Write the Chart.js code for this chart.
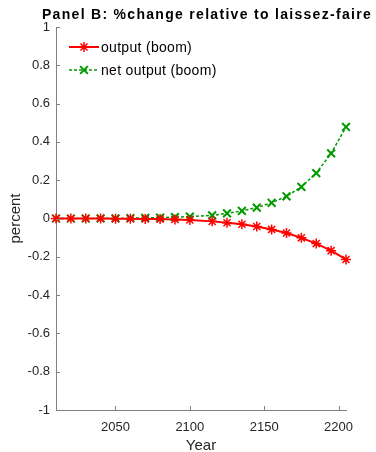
<!DOCTYPE html>
<html>
<head>
<meta charset="utf-8">
<script src="https://cdn.jsdelivr.net/npm/chart.js@4/dist/chart.umd.min.js"></script>
<style>
  html, body { margin: 0; padding: 0; background: #fff; }
  #wrap { width: 376px; height: 452px; }
</style>
</head>
<body>
<div id="wrap"><canvas id="panelB" width="376" height="452"></canvas></div>
<script>
// years of the simulation periods
const years = [2010, 2020, 2030, 2040, 2050, 2060, 2070, 2080, 2090, 2100,
               2115, 2125, 2135, 2145, 2155, 2165, 2175, 2185, 2195, 2205];
// % change vs laissez-faire
const outputBoom = [0, 0, 0, 0, -0.001, -0.001, -0.002, -0.003, -0.005, -0.008,
                    -0.015, -0.022, -0.030, -0.042, -0.057, -0.076, -0.101, -0.131, -0.168, -0.214];
const netOutputBoom = [0, 0, 0, 0.001, 0.001, 0.002, 0.003, 0.005, 0.007, 0.010,
                       0.016, 0.027, 0.040, 0.057, 0.082, 0.116, 0.165, 0.237, 0.340, 0.478];
const xTicks = [2050, 2100, 2150, 2200];
const yTicks = [-1, -0.8, -0.6, -0.4, -0.2, 0, 0.2, 0.4, 0.6, 0.8, 1];
const panelTitle = 'Panel B: %change relative to laissez-faire';

const RED = '#ff0000';
const GREEN = '#009900';
const AXIS = '#808080';
const FONT = "'Liberation Sans', Arial, Helvetica, sans-serif";

function xy(vals) {
    return vals.map((v, i) => ({ x: years[i], y: v }));
}

// small inward tick marks, matlab style
const innerTicks = {
    id: 'innerTicks',
    afterDraw(chart) {
        const ctx = chart.ctx;
        const xs = chart.scales.x, ys = chart.scales.y;
        const area = chart.chartArea;
        ctx.save();
        ctx.strokeStyle = AXIS;
        ctx.lineWidth = 1;
        ctx.beginPath();
        xTicks.forEach(v => {
            const px = Math.round(xs.getPixelForValue(v)) + 0.5;
            ctx.moveTo(px, area.bottom);
            ctx.lineTo(px, area.bottom - 4);
        });
        yTicks.forEach(v => {
            const py = Math.round(ys.getPixelForValue(v)) + 0.5;
            ctx.moveTo(area.left, py);
            ctx.lineTo(area.left + 4, py);
        });
        ctx.stroke();
        ctx.restore();
    }
};

// bold title, a bit spread out, centred over the axes
const panelHeading = {
    id: 'panelHeading',
    afterDraw(chart) {
        const ctx = chart.ctx;
        const area = chart.chartArea;
        ctx.save();
        ctx.font = 'bold 14px ' + FONT;
        ctx.fillStyle = '#000';
        ctx.textAlign = 'center';
        ctx.textBaseline = 'middle';
        if ('letterSpacing' in ctx) ctx.letterSpacing = '1.3px';
        ctx.fillText(panelTitle, (area.left + area.right) / 2 + 6, 15);
        ctx.restore();
    }
};

function drawMarker(ctx, style, x, y, r) {
    ctx.beginPath();
    if (style === 'star') {
        ctx.moveTo(x - r, y); ctx.lineTo(x + r, y);
        ctx.moveTo(x, y - r); ctx.lineTo(x, y + r);
    }
    const d = r * Math.SQRT1_2;
    ctx.moveTo(x - d, y - d); ctx.lineTo(x + d, y + d);
    ctx.moveTo(x - d, y + d); ctx.lineTo(x + d, y - d);
    ctx.stroke();
}

// legend with line + marker sample
const lineLegend = {
    id: 'lineLegend',
    afterDraw(chart) {
        const ctx = chart.ctx;
        const rows = chart.data.datasets;
        ctx.save();
        ctx.font = '14px ' + FONT;
        ctx.textBaseline = 'middle';
        if ('letterSpacing' in ctx) ctx.letterSpacing = '0.3px';
        rows.forEach((ds, i) => {
            const y = 47 + i * 23;
            ctx.strokeStyle = ds.borderColor;
            ctx.lineWidth = ds.borderWidth;
            ctx.setLineDash(ds.borderDash || []);
            ctx.beginPath();
            ctx.moveTo(69, y);
            ctx.lineTo(99, y);
            ctx.stroke();
            ctx.setLineDash([]);
            ctx.lineWidth = ds.pointBorderWidth;
            drawMarker(ctx, ds.pointStyle, 84, y, ds.pointRadius);
            ctx.fillStyle = '#000';
            ctx.fillText(ds.label, 101, y + 1);
        });
        ctx.restore();
    }
};

new Chart(document.getElementById('panelB'), {
    type: 'line',
    data: {
        datasets: [{
            label: 'output (boom)',
            data: xy(outputBoom),
            borderColor: RED,
            backgroundColor: RED,
            borderWidth: 2,
            pointStyle: 'star',
            pointRadius: 5,
            pointBorderWidth: 1.5,
            pointBorderColor: RED,
            clip: 10,
            fill: false
        }, {
            label: 'net output (boom)',
            data: xy(netOutputBoom),
            borderColor: GREEN,
            backgroundColor: GREEN,
            borderWidth: 1.5,
            borderDash: [3, 2],
            pointStyle: 'crossRot',
            pointRadius: 5.5,
            pointBorderWidth: 2,
            pointBorderColor: GREEN,
            clip: 10,
            fill: false
        }]
    },
    options: {
        responsive: false,
        animation: false,
        layout: { padding: { left: 0, right: 30, top: 27, bottom: 0 } },
        plugins: {
            legend: { display: false },
            tooltip: { enabled: false },
            title: { display: false }
        },
        scales: {
            x: {
                type: 'linear',
                min: 2010,
                max: 2205,
                afterBuildTicks: s => { s.ticks = xTicks.map(v => ({ value: v })); },
                afterFit: s => { s.height = 42; },
                grid: { display: true, drawOnChartArea: false, drawTicks: false },
                border: { display: true, color: AXIS, width: 1 },
                ticks: {
                    color: '#262626',
                    padding: 10,
                    maxRotation: 0,
                    font: { family: FONT, size: 13 },
                    callback: v => String(v)
                },
                title: {
                    display: true,
                    text: 'Year',
                    color: '#262626',
                    font: { family: FONT, size: 15, lineHeight: 1 },
                    padding: { top: 0, bottom: -1 }
                }
            },
            y: {
                min: -1,
                max: 1,
                afterBuildTicks: s => { s.ticks = yTicks.map(v => ({ value: v })); },
                afterFit: s => { s.width = 56; },
                grid: { display: true, drawOnChartArea: false, drawTicks: false },
                border: { display: true, color: AXIS, width: 1 },
                ticks: {
                    color: '#262626',
                    padding: 6,
                    font: { family: FONT, size: 13 },
                    callback: v => String(Math.round(v * 10) / 10)
                },
                title: {
                    display: true,
                    text: 'percent',
                    color: '#262626',
                    font: { family: FONT, size: 15, lineHeight: 1 },
                    padding: { top: 8, bottom: 0 }
                }
            }
        }
    },
    plugins: [innerTicks, panelHeading, lineLegend]
});
</script>
</body>
</html>
